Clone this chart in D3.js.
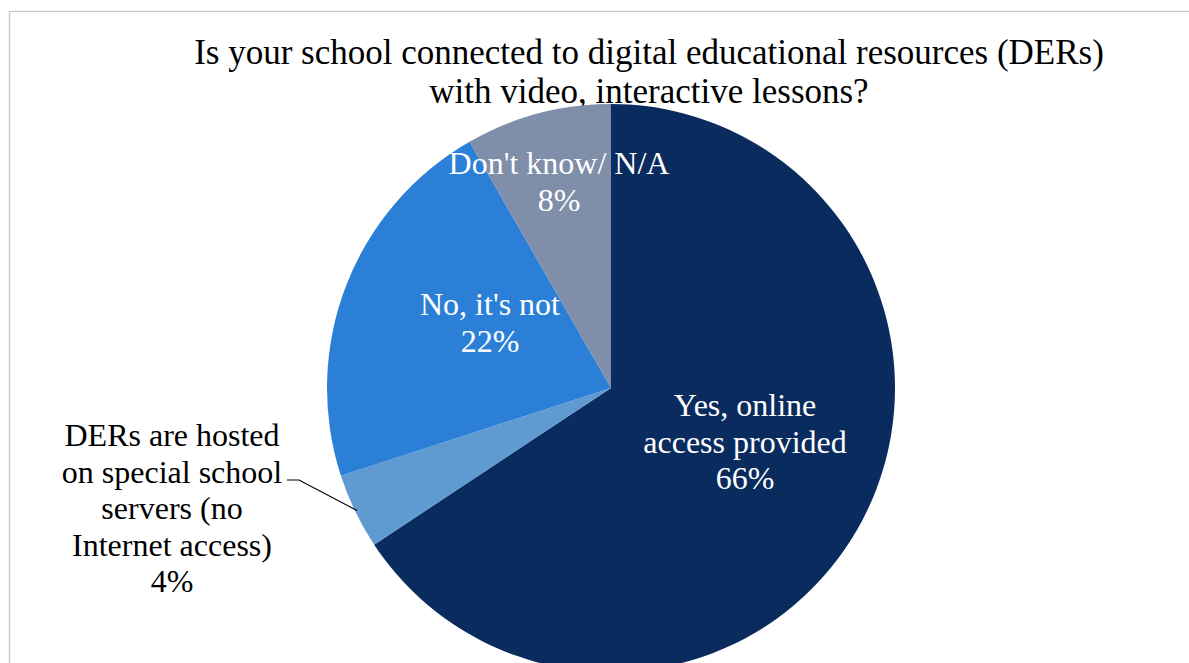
<!DOCTYPE html>
<html><head><meta charset="utf-8">
<script src="https://cdn.jsdelivr.net/npm/d3@7"></script>
<style>body{margin:0;background:#fff}svg{display:block}</style>
</head><body>
<svg id="c" width="1189" height="663"></svg>
<script>
const titleLines = ["Is your school connected to digital educational resources (DERs)", "with video, interactive lessons?"];
const categories = ["Yes, online access provided", "DERs are hosted on special school servers (no Internet access)", "No, it's not", "Don't know/ N/A"];
const values = [65.7, 4.3, 21.7, 8.3];
const percentLabels = ["66%", "4%", "22%", "8%"];
const labelLines = [["Yes, online", "access provided"], ["DERs are hosted", "on special school", "servers (no", "Internet access)"], ["No, it's not"], ["Don't know/ N/A"]];
const colors = ["#0a2b5e", "#5f9bd1", "#2b7fd7", "#7f8ea9"];

const svg = d3.select("#c");
svg.append("rect").attr("x", 9.5).attr("y", 11.5).attr("width", 1200).attr("height", 700)
  .attr("fill", "#fff").attr("stroke", "#c8c8c8").attr("stroke-width", 1.3);

const cx = 611, cy = 388, r = 284;
const font = "Liberation Serif, Times New Roman, serif";

svg.append("text").attr("text-anchor", "middle")
  .attr("font-family", font).attr("font-size", 35).attr("fill", "#000")
  .selectAll("tspan").data(titleLines).join("tspan")
  .attr("x", 649).attr("y", (d, i) => 64 + i * 39).text(d => d);

const pie = d3.pie().sort(null).value(d => d);
const arcs = pie(values);
const arc = d3.arc().innerRadius(0).outerRadius(r);
const g = svg.append("g").attr("transform", `translate(${cx},${cy})`);
g.selectAll("path").data(arcs).join("path").attr("d", arc)
  .attr("fill", (d, i) => colors[i]);

const labelPos = [
  {x: 745, y: 405, color: "#fff"},
  {x: 172, y: 435, color: "#000"},
  {x: 490, y: 304, color: "#fff"},
  {x: 559, y: 163, color: "#fff"}
];
const lh = 36.6;
labelLines.forEach((lines, i) => {
  const all = lines.concat([percentLabels[i]]);
  const t = svg.append("text").attr("text-anchor", "middle")
    .attr("font-family", font).attr("font-size", 32).attr("fill", labelPos[i].color);
  all.forEach((s, j) => {
    t.append("tspan").attr("x", labelPos[i].x).attr("y", labelPos[i].y + j * lh)
      .attr("dominant-baseline", "central").text(s);
  });
});

const mid = (arcs[1].startAngle + arcs[1].endAngle) / 2;
const ex = cx + Math.sin(mid) * (r - 2), ey = cy - Math.cos(mid) * (r - 2);
svg.append("polyline")
  .attr("points", `287,480 299,480 ${ex},${ey}`)
  .attr("fill", "none").attr("stroke", "#000").attr("stroke-width", 1.2);
</script>
</body></html>
